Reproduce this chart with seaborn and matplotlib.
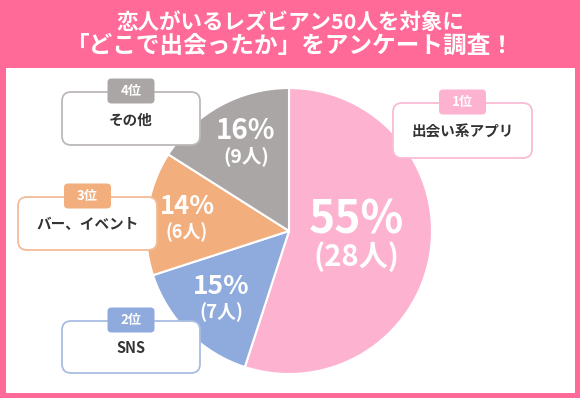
import matplotlib
matplotlib.use("Agg")
import matplotlib.pyplot as plt
from matplotlib.patches import FancyBboxPatch, Rectangle
import seaborn as sns

sns.set_theme(style="white")
plt.rcParams["font.family"] = ["Noto Sans CJK JP", "DejaVu Sans"]

title_lines = ["恋人がいるレズビアン50人を対象に", "「どこで出会ったか」をアンケート調査！"]
categories = ["出会い系アプリ", "SNS", "バー、イベント", "その他"]
ranks = ["1位", "2位", "3位", "4位"]
percents = [55, 15, 14, 16]
people = [28, 7, 6, 9]

slice_colors = sns.color_palette(["#FDB3D0", "#8FAADC", "#F3AE7E", "#ABA6A6"])
border_colors = ["#F9BCD4", "#A9BDE2", "#F2BC98", "#BDB9B9"]
header_pink = "#FF6A99"
text_dark = "#333333"

H = 398


def fy(y):
    # picture coords (top origin) -> axes coords
    return H - y


fig = plt.figure(figsize=(5.8, 3.98), dpi=100, facecolor=header_pink)
ax = fig.add_axes([0, 0, 1, 1])
ax.set_facecolor(header_pink)

# white panel
ax.add_patch(Rectangle((6, fy(393)), 569, 325, facecolor="white", edgecolor="none", zorder=0))

# title
ax.text(290, fy(22), title_lines[0], ha="center", va="center", color="white",
        fontsize=15.5, fontweight="bold")
ax.text(290, fy(46), title_lines[1], ha="center", va="center", color="white",
        fontsize=17, fontweight="bold")

# pie
ax.pie(percents, colors=slice_colors, startangle=90, counterclock=False,
       center=(289, fy(231)), radius=143,
       wedgeprops=dict(edgecolor="white", linewidth=1.5))

# percent labels on slices
pct_pos = [(356, 220, 257, 32, 21), (221, 287, 312, 19, 13.5),
           (187, 206, 232, 18.5, 13), (246, 131, 156, 20, 14)]
for p, n, (x, y1, y2, s1, s2) in zip(percents, people, pct_pos):
    ax.text(x, fy(y1), f"{p}%", ha="center", va="center", color="white",
            fontsize=s1, fontweight="bold")
    ax.text(x, fy(y2), f"({n}人)", ha="center", va="center", color="white",
            fontsize=s2, fontweight="bold")

# label boxes (left, top, right, bottom)
boxes = [(393, 103, 532, 158), (62, 321, 200, 373),
         (18, 197, 157, 250), (62, 92, 200, 145)]
for cat, rank, col, bcol, (x0, y0, x1, y1) in zip(categories, ranks, slice_colors,
                                                     border_colors, boxes):
    ax.add_patch(FancyBboxPatch((x0, fy(y1)), x1 - x0, y1 - y0,
                                boxstyle="round,pad=0,rounding_size=9",
                                facecolor="white", edgecolor=bcol, linewidth=1.3,
                                zorder=3))
    cx = (x0 + x1) / 2
    ax.text(cx, fy((y0 + y1) / 2 + 1), cat, ha="center", va="center",
            color=text_dark, fontsize=10.5, fontweight="bold", zorder=5)
    bw, bh = 47, 25
    ax.add_patch(FancyBboxPatch((cx - bw / 2, fy(y0 - 1 + bh / 2)), bw, bh,
                                boxstyle="round,pad=0,rounding_size=4",
                                facecolor=col, edgecolor="none", zorder=4))
    ax.text(cx, fy(y0 - 1), rank, ha="center", va="center", color="white",
            fontsize=9.5, fontweight="bold", zorder=5)

ax.set_xlim(0, 580)
ax.set_ylim(0, H)
ax.set_aspect("equal")
ax.axis("off")

fig.savefig("out.png", dpi=100, facecolor=header_pink)
